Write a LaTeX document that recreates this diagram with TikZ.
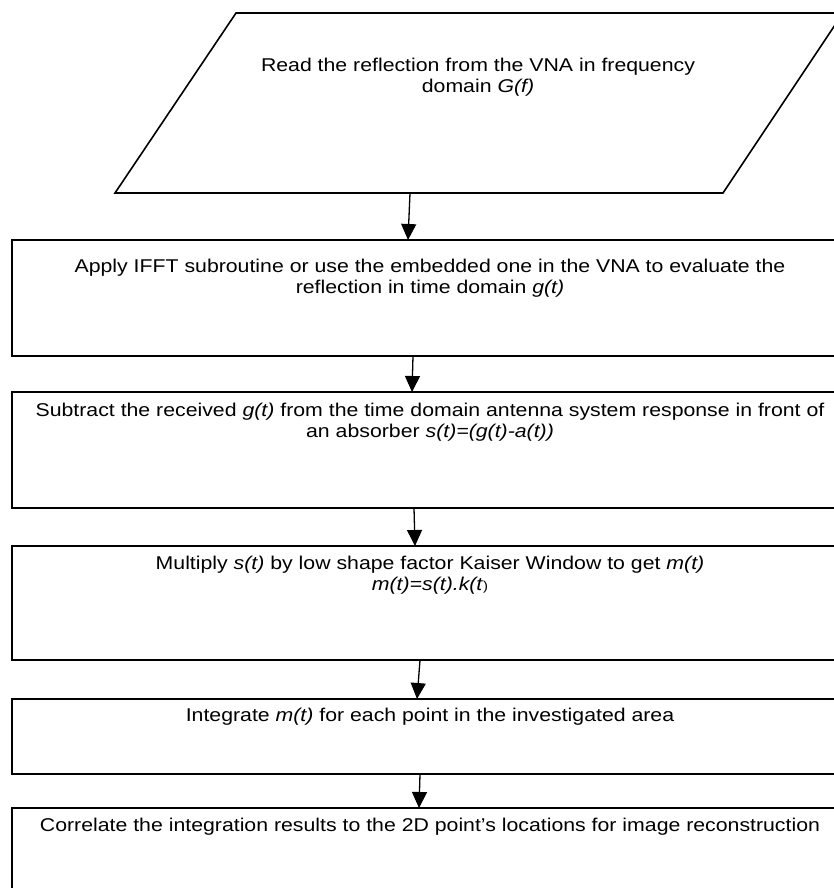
\documentclass[tikz,border=0pt]{standalone}
\usepackage{fontspec}
\setmainfont{Liberation Sans}[FakeStretch=1.15]
\usetikzlibrary{arrows.meta}
\begin{document}
\begin{tikzpicture}[x=1pt,y=-1pt,
  box/.style={draw, line width=1.6pt, minimum width=836pt, inner sep=0pt, outer sep=0pt},
  frame/.style={minimum width=728pt, minimum height=180pt, inner sep=0pt, outer sep=0pt},
  edge/.style={line width=1.6pt, line join=miter},
  txt/.style={font=\fontsize{18.5}{21}\selectfont, align=center, anchor=north, inner sep=0pt},
  arr/.style={line width=1.3pt, -{Triangle[length=16pt,width=15pt]}}]
\clip (0,0) rectangle (834,888);
\fill[white] (0,0) rectangle (834,888);

\node[frame] (p) at (479,103) {};
\draw[edge] (p.south west) -- ([xshift=121pt]p.north west) -- (p.north east)
  -- ([xshift=-120pt]p.south east) -- cycle;
\node[box, minimum height=116pt] (b1) at (430,298) {};
\node[box, minimum height=116pt] (b2) at (430,450) {};
\node[box, minimum height=114pt] (b3) at (430,603) {};
\node[box, minimum height=75pt] (b4) at (430,736.5) {};
\node[box, minimum height=92pt] (b5) at (430,854) {};

\node[txt] (tp) at ([xshift=-1pt,yshift=-44.5pt]p.north) {Read the reflection from the VNA in frequency\\domain \textit{G(f)}};
\node[txt] (t1) at ([yshift=-18.5pt]b1.north) {Apply IFFT subroutine or use the embedded one in the VNA to evaluate the\\reflection in time domain \textit{g(t)}};
\node[txt] (t2) at ([yshift=-10.5pt]b2.north) {Subtract the received \textit{g(t)} from the time domain antenna system response in front of\\an absorber \textit{s(t)=(g(t)-a(t))}};
\node[txt] (t3) at ([yshift=-10pt]b3.north) {Multiply \textit{s(t)} by low shape factor Kaiser Window to get \textit{m(t)}\\\textit{m(t)=s(t).k(t}{\fontsize{13}{15}\selectfont )}};
\node[txt] (t4) at ([yshift=-9pt]b4.north) {Integrate \textit{m(t)} for each point in the investigated area};
\node[txt] (t5) at ([yshift=-10pt]b5.north) {Correlate the integration results to the 2D point’s locations for image reconstruction};

\draw[arr] ([xshift=-69pt]p.south) -- ([xshift=-22pt]b1.north);
\draw[arr] ([xshift=-17pt]b1.south) -- ([xshift=-18pt]b2.north);
\draw[arr] ([xshift=-16pt]b2.south) -- ([xshift=-15pt]b3.north);
\draw[arr] ([xshift=-10pt]b3.south) -- ([xshift=-13pt]b4.north);
\draw[arr] ([xshift=-10pt]b4.south) -- ([xshift=-11pt]b5.north);
\end{tikzpicture}
\end{document}
